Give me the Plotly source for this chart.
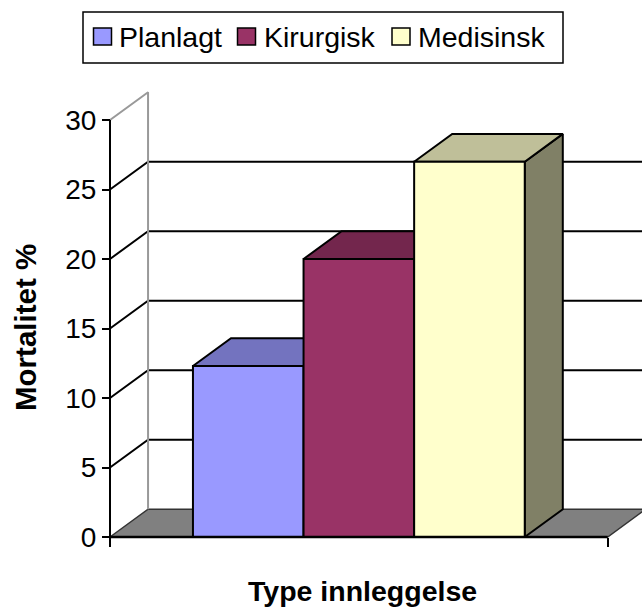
import plotly.graph_objects as go

# Mortality (%) by admission type
categories = ["Planlagt", "Kirurgisk", "Medisinsk"]
mortality = [12.3, 20.0, 27.0]
y_ticks = [0, 5, 10, 15, 20, 25, 30]
x_title = "Type innleggelse"
y_title = "Mortalitet %"

front_colors = ["#9999FF", "#993366", "#FFFFCC"]
top_colors = ["#7373BF", "#73264D", "#BFBF99"]
side_colors = ["#5C5C99", "#5C1F3D", "#808066"]

FONT = "Arial, Liberation Sans, sans-serif"

# canvas and projection geometry
W, H = 642, 612
ML, MR, MT, MB = 60, 0, 80, 40
X0_PX, X_SCALE = 110.0, 110.6      # pixel of x=0, pixels per category unit
Y0_PX, Y_SCALE = 537.0, 13.9       # pixel of y=0, pixels per percent
DX, DY = 0.344, 2.0                # depth offset of the 3-D box (data units)
GAP = 1.5                          # gap width, in bar widths
CAT_W = len(categories) + GAP
Y_MAX = 30

x_range = [(ML - X0_PX) / X_SCALE, (W - MR - X0_PX) / X_SCALE]
y_range = [(Y0_PX - (H - MB)) / Y_SCALE, (Y0_PX - MT) / Y_SCALE]

fig = go.Figure()


def poly(xs, ys, fill, line="black", lw=2):
    fig.add_trace(go.Scatter(
        x=list(xs) + [xs[0]], y=list(ys) + [ys[0]],
        mode="lines", fill="toself", fillcolor=fill,
        line=dict(color=line, width=lw), hoverinfo="skip", showlegend=False))


def seg(xs, ys, color, lw):
    fig.add_trace(go.Scatter(x=xs, y=ys, mode="lines",
                             line=dict(color=color, width=lw),
                             hoverinfo="skip", showlegend=False))


# floor
poly([0, CAT_W, CAT_W + DX, DX], [0, 0, DY, DY], "#808080", line="#333333", lw=1.5)

# back-wall gridlines and side-wall gridlines
gx, gy = [], []
for v in y_ticks[1:-1]:
    gx += [0, DX, CAT_W + DX + 1, None]
    gy += [v, v + DY, v + DY, None]
seg(gx, gy, "black", 2)

# wall edges
seg([0, DX, DX], [Y_MAX, Y_MAX + DY, DY], "#999999", 2)

# bars: side, top, front
for i, (name, v) in enumerate(zip(categories, mortality)):
    x0 = GAP / 2 + i
    x1 = x0 + 1
    poly([x1, x1 + DX, x1 + DX, x1], [0, DY, v + DY, v], side_colors[i])
    poly([x0, x1, x1 + DX, x0 + DX], [v, v, v + DY, v + DY], top_colors[i])
    poly([x0, x1, x1, x0], [0, 0, v, v], front_colors[i])

# front axes
seg([0, 0], [0, Y_MAX], "black", 2)
seg([0, CAT_W], [0, 0], "black", 2.5)

fig.update_xaxes(range=x_range, showgrid=False, zeroline=False, showline=False,
                 tickvals=[0, CAT_W], ticks="outside", ticklen=9, tickwidth=2,
                 tickcolor="black", showticklabels=False, anchor="free",
                 position=(0 - y_range[0]) / (y_range[1] - y_range[0]),
                 fixedrange=True)
fig.update_yaxes(range=y_range, showgrid=False, zeroline=False, showline=False,
                 tickvals=y_ticks, ticks="outside", ticklen=8, tickwidth=2,
                 tickcolor="black", tickfont=dict(family=FONT, size=28, color="black"),
                 anchor="free",
                 position=(0 - x_range[0]) / (x_range[1] - x_range[0]),
                 fixedrange=True)


def px_x(px):
    return (px - ML) / (W - ML - MR)


def px_y(py):
    return 1 - (py - MT) / (H - MT - MB)


shapes = []
annotations = []

# legend box
shapes.append(dict(type="rect", xref="paper", yref="paper",
                   x0=px_x(83), x1=px_x(563), y0=px_y(63), y1=px_y(12),
                   line=dict(color="black", width=1.5), fillcolor="white"))
swatch_x = [93.5, 237.5, 392]
text_x = [117, 262, 416]
for i, name in enumerate(categories):
    shapes.append(dict(type="rect", xref="paper", yref="paper",
                       x0=px_x(swatch_x[i]), x1=px_x(swatch_x[i] + 18),
                       y0=px_y(45), y1=px_y(28),
                       line=dict(color="black", width=1.5),
                       fillcolor=front_colors[i]))
    annotations.append(dict(xref="paper", yref="paper", x=px_x(text_x[i]), y=px_y(37.5),
                            text=name, showarrow=False, xanchor="left", yanchor="middle",
                            font=dict(family=FONT, size=28.5, color="black")))

annotations.append(dict(xref="paper", yref="paper", x=px_x(362), y=px_y(591),
                        text=f"<b>{x_title}</b>", showarrow=False,
                        xanchor="center", yanchor="middle",
                        font=dict(family=FONT, size=28.5, color="black")))
annotations.append(dict(xref="paper", yref="paper", x=px_x(25), y=px_y(328),
                        text=f"<b>{y_title}</b>", showarrow=False, textangle=-90,
                        xanchor="center", yanchor="middle",
                        font=dict(family=FONT, size=29.5, color="black")))

fig.update_layout(width=W, height=H, margin=dict(l=ML, r=MR, t=MT, b=MB),
                  paper_bgcolor="white", plot_bgcolor="white",
                  shapes=shapes, annotations=annotations, showlegend=False)

fig.write_html("out.html")
